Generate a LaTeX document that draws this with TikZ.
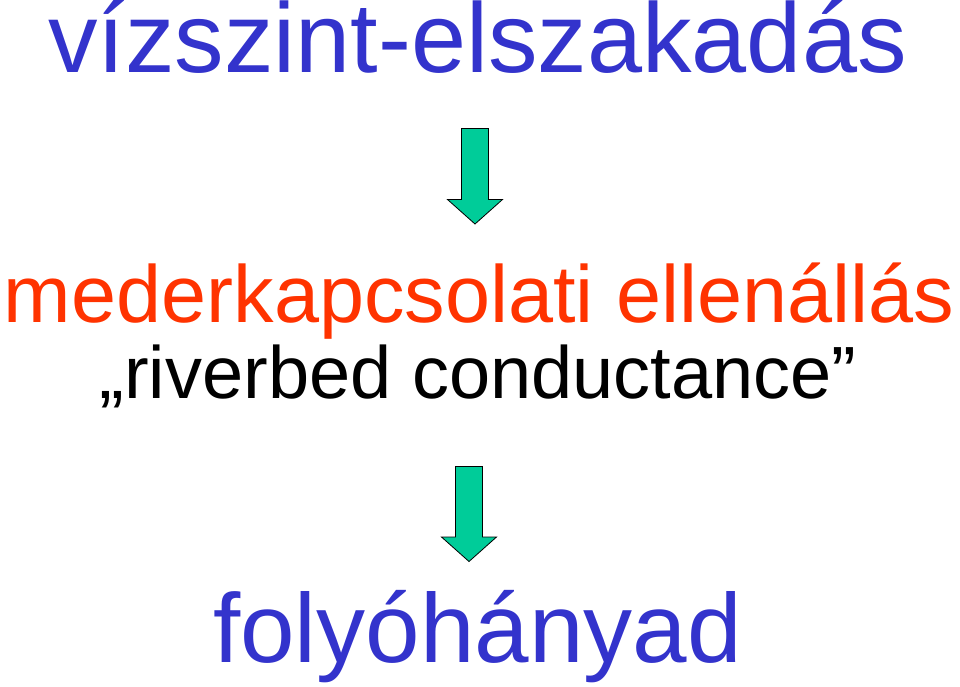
\documentclass[tikz,border=0pt]{standalone}
\usepackage{fontspec}
\setmainfont{Liberation Sans}
\usetikzlibrary{calc}
\definecolor{levelblue}{RGB}{51,51,204}
\definecolor{bedorange}{RGB}{255,51,0}
\definecolor{arrowgreen}{RGB}{0,204,153}
\def\blockarrow[#1](#2)(#3){\draw[#1] ($(#2)+(-13.5,0)$) -- ($(#3)+(-13.5,-24.5)$) -- ($(#3)+(-27.5,-24.5)$) -- (#3) -- ($(#3)+(27.5,-24.5)$) -- ($(#3)+(13.5,-24.5)$) -- ($(#2)+(13.5,0)$) -- cycle;}

\begin{document}
\begin{tikzpicture}[x=1pt, y=-1pt,
	hugetext/.style={anchor=base, inner sep=0pt},
	downarrow/.style={fill=arrowgreen, draw=black, line width=0.8pt, line join=miter}]
			%%%%% START %%%%%
			\useasboundingbox (0, 0) rectangle (960, 686);
			
			\node[hugetext, text=levelblue, font=\fontsize{99}{110}\selectfont] (level) at (477.5, 72.5) {vízszint-elszakadás};
			
			\coordinate (top1) at (475, 128.5);
			\coordinate (tip1) at (475, 224);
			\blockarrow[downarrow](top1)(tip1);
			
			\node[hugetext, text=bedorange, font=\fontsize{81}{90}\selectfont] (bed) at (479, 322) {mederkapcsolati ellenállás};
			\node[hugetext, text=black, font=\fontsize{74}{80}\selectfont] (english) at (478, 398) {„riverbed conductance”};
			
			\coordinate (top2) at (469, 466.5);
			\coordinate (tip2) at (469, 561.5);
			\blockarrow[downarrow](top2)(tip2);
			
			\node[hugetext, text=levelblue, font=\fontsize{98}{110}\selectfont] (fraction) at (477.5, 662) {folyóhányad};
			
			%%%%% END %%%%%
\end{tikzpicture}
\end{document}
